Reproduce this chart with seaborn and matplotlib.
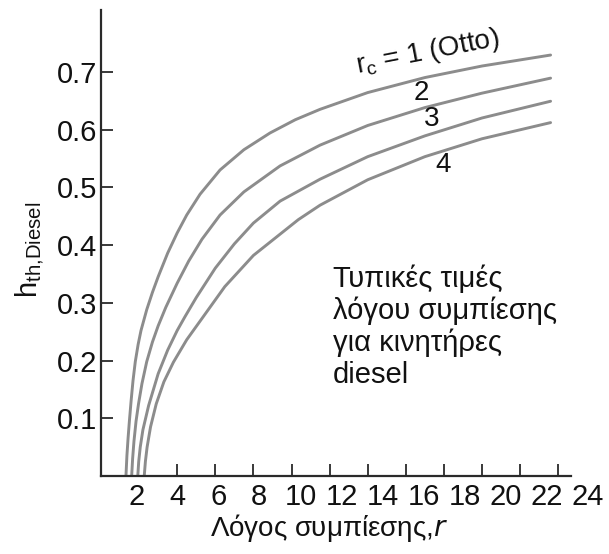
import matplotlib
matplotlib.use("Agg")
import matplotlib.pyplot as plt
import seaborn as sns
import pandas as pd

# ---- data ----
r_otto = [1.31, 1.36, 1.42, 1.49, 1.58, 1.68, 1.8, 1.95, 2.1, 2.4, 2.7, 3.0, 3.5, 4.0, 4.5, 5.2,
          6.25, 7.5, 8.87, 10.2, 11.5, 14, 17, 20, 23.6]
eta_otto = [0.0, 0.035, 0.065, 0.095, 0.13, 0.165, 0.198, 0.228, 0.252, 0.288, 0.318, 0.345, 0.386,
            0.421, 0.452, 0.488, 0.530, 0.565, 0.594, 0.617, 0.635, 0.664, 0.690, 0.710, 0.729]

r_rc2 = [1.61, 1.66, 1.73, 1.84, 1.97, 2.15, 2.4, 2.7, 3.0, 3.4, 4.0, 4.6, 5.3, 6.25, 7.5, 9.4,
         11.5, 14, 17, 20, 23.6]
eta_rc2 = [0.0, 0.03, 0.06, 0.095, 0.125, 0.16, 0.198, 0.232, 0.26, 0.292, 0.334, 0.372, 0.410,
           0.452, 0.492, 0.537, 0.573, 0.607, 0.638, 0.663, 0.689]

r_rc3 = [1.93, 1.98, 2.06, 2.2, 2.5, 3.0, 3.5, 4.0, 4.41, 5.0, 6.0, 7.0, 8.0, 9.4, 11.5, 14, 17,
         20, 23.6]
eta_rc3 = [0.0, 0.025, 0.05, 0.08, 0.122, 0.177, 0.218, 0.252, 0.276, 0.309, 0.360, 0.402, 0.438,
           0.476, 0.514, 0.553, 0.589, 0.620, 0.649]

r_rc4 = [2.27, 2.33, 2.42, 2.6, 2.9, 3.3, 3.8, 4.5, 5.37, 6.5, 8.0, 10.36, 11.5, 14, 17, 20, 23.6]
eta_rc4 = [0.0, 0.025, 0.05, 0.085, 0.125, 0.163, 0.197, 0.236, 0.276, 0.328, 0.382, 0.444, 0.469,
           0.513, 0.553, 0.584, 0.612]

x_tick_values = [4, 6, 8, 10, 12, 14, 16, 18, 20, 22, 24]
x_label_values = [2, 4, 6, 8, 10, 12, 14, 16, 18, 20, 22, 24]
y_tick_values = [0.1, 0.2, 0.3, 0.4, 0.5, 0.6, 0.7]

curve_labels = ["r$_c$ = 1 (Otto)", "2", "3", "4"]
note_text = "Τυπικές τιμές\nλόγου συμπίεσης\nγια κινητήρες\ndiesel"
xlabel_text = r"Λόγος συμπίεσης,$\mathit{r}$"
ylabel_text = "h$_{th{,}Diesel}$"

frames = []
for name, rr, ee in [("1", r_otto, eta_otto), ("2", r_rc2, eta_rc2),
                     ("3", r_rc3, eta_rc3), ("4", r_rc4, eta_rc4)]:
    frames.append(pd.DataFrame({"r": rr, "eta": ee, "rc": name}))
df = pd.concat(frames, ignore_index=True)

# ---- style ----
sns.set_style("ticks")
plt.rcParams["font.family"] = ["Liberation Sans", "DejaVu Sans"]
plt.rcParams["mathtext.default"] = "regular"

axis_col = "#2a2a2a"
line_col = "#8c8c8c"
txt_col = "#111111"

fig = plt.figure(figsize=(6.09, 5.54), dpi=100)
ax = fig.add_axes([101 / 609, 78 / 554, 491.5 / 609, 466 / 554])

sns.lineplot(data=df, x="r", y="eta", hue="rc", units="rc", estimator=None,
             sort=False, palette=[line_col] * 4, linewidth=2.1, legend=False, ax=ax)

ax.set_xlim(0, 25.8)
ax.set_ylim(0, 0.807)

for s in ["top", "right"]:
    ax.spines[s].set_visible(False)
for s in ["left", "bottom"]:
    ax.spines[s].set_color(axis_col)
    ax.spines[s].set_linewidth(1.6)
ax.spines["bottom"].set_bounds(0, 24.67)

ax.set_yticks(y_tick_values)
ax.set_yticklabels([f"{v:.1f}" for v in y_tick_values])
ax.tick_params(axis="y", direction="in", length=8.5, width=1.3, color=axis_col,
               labelsize=21, pad=3, labelcolor=txt_col)

# major ticks: marks only; minor ticks (no marks): the labels, placed as in the picture
ax.xaxis.remove_overlapping_locs = False
stretch = 1.078
ax.set_xticks(x_tick_values)
ax.set_xticklabels([])
ax.set_xticks([4 + (v - 4) * stretch for v in x_label_values], minor=True)
ax.set_xticklabels([str(v) for v in x_label_values], minor=True)
ax.tick_params(axis="x", which="major", direction="in", length=8.5, width=1.3, color=axis_col)
ax.tick_params(axis="x", which="minor", length=0, labelsize=21, pad=5, labelcolor=txt_col)

ax.set_xlabel(xlabel_text, fontsize=20, color=txt_col)
ax.xaxis.set_label_coords((329 - 101) / 491.5, (476 - 512) / 466)
ax.set_ylabel(ylabel_text, fontsize=21, color=txt_col)
ax.yaxis.set_label_coords((46 - 101) / 491.5, (476 - 250) / 466)

# curve labels
ax.text(17.17, 0.734, curve_labels[0], fontsize=20, rotation=11, ha="center", va="center", color=txt_col)
ax.text(16.83, 0.663, curve_labels[1], fontsize=20, ha="center", va="center", color=txt_col)
ax.text(17.36, 0.619, curve_labels[2], fontsize=20, ha="center", va="center", color=txt_col)
ax.text(17.97, 0.538, curve_labels[3], fontsize=20, ha="center", va="center", color=txt_col)

ax.text(12.18, 0.366, note_text, fontsize=21, ha="left", va="top", linespacing=1.16, color=txt_col)

fig.savefig("out.png", dpi=100)
